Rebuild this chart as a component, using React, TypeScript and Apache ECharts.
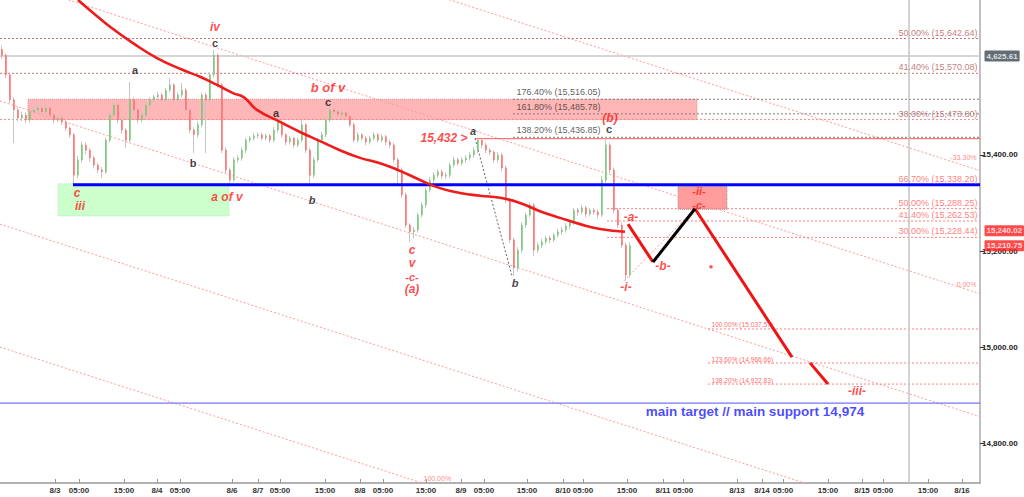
import React, { useEffect, useRef } from "react";
import * as echarts from "echarts";

const BAR_COUNT = 245;
const Y_MIN = 14716.7;
const Y_MAX = 15722.9;

// candles: [open, close, low, high]
const candles: number[][] = [
  [15620,15608,15600,15628],[15608,15567,15560,15612],[15567,15515,15508,15572],[15515,15494,15425,15520],
  [15494,15477,15470,15500],[15477,15483,15471,15490],[15483,15473,15466,15488],[15473,15490,15468,15496],
  [15490,15494,15484,15500],[15494,15498,15488,15504],[15498,15490,15484,15504],[15490,15498,15485,15505],
  [15498,15483,15477,15503],[15483,15473,15466,15488],[15473,15477,15468,15484],[15477,15469,15462,15482],
  [15469,15456,15450,15474],[15456,15442,15436,15460],[15442,15358,15342,15446],[15358,15390,15352,15398],
  [15390,15421,15384,15428],[15421,15410,15402,15426],[15410,15394,15386,15414],[15394,15379,15372,15398],
  [15379,15369,15362,15384],[15369,15365,15352,15375],[15365,15431,15360,15436],[15431,15483,15426,15490],
  [15483,15504,15478,15510],[15504,15473,15466,15508],[15473,15452,15444,15478],[15452,15431,15415,15456],
  [15431,15515,15426,15552],[15515,15494,15488,15520],[15494,15473,15466,15498],[15473,15483,15468,15490],
  [15483,15504,15478,15510],[15504,15515,15498,15520],[15515,15521,15510,15526],[15521,15525,15514,15532],
  [15525,15515,15508,15530],[15515,15535,15510,15540],[15535,15546,15530,15560],[15546,15515,15508,15550],
  [15515,15525,15510,15530],[15525,15535,15520,15550],[15535,15494,15488,15540],[15494,15452,15446,15498],
  [15452,15442,15404,15458],[15442,15463,15436,15470],[15463,15525,15458,15530],[15525,15515,15404,15530],
  [15515,15567,15510,15572],[15567,15608,15562,15619],[15608,15546,15540,15612],[15546,15410,15404,15550],
  [15410,15369,15362,15416],[15369,15348,15340,15374],[15348,15390,15344,15396],[15390,15394,15384,15400],
  [15394,15410,15388,15416],[15410,15431,15404,15436],[15431,15435,15426,15440],[15435,15440,15430,15446],
  [15440,15442,15434,15448],[15442,15435,15430,15446],[15435,15440,15430,15445],[15440,15431,15425,15444],
  [15431,15452,15426,15458],[15452,15469,15446,15477],[15469,15442,15436,15472],[15442,15427,15420,15446],
  [15427,15435,15422,15440],[15435,15421,15414,15438],[15421,15431,15416,15436],[15431,15463,15426,15473],
  [15463,15410,15404,15466],[15410,15358,15342,15414],[15358,15390,15352,15396],[15390,15431,15386,15436],
  [15431,15442,15426,15448],[15442,15473,15436,15478],[15473,15494,15468,15500],[15494,15490,15484,15498],
  [15490,15485,15480,15494],[15485,15488,15480,15494],[15488,15481,15476,15492],[15481,15463,15458,15486],
  [15463,15431,15426,15468],[15431,15442,15426,15448],[15442,15435,15430,15446],[15435,15427,15420,15440],
  [15427,15435,15422,15440],[15435,15442,15430,15448],[15442,15431,15426,15446],[15431,15438,15426,15444],
  [15438,15427,15420,15442],[15427,15421,15414,15432],[15421,15390,15384,15426],[15390,15369,15338,15394],
  [15369,15317,15310,15374],[15317,15254,15248,15322],[15254,15240,15219,15258],[15240,15244,15226,15250],
  [15244,15275,15238,15280],[15275,15296,15270,15302],[15296,15327,15290,15332],[15327,15348,15322,15354],
  [15348,15358,15342,15364],[15358,15365,15352,15370],[15365,15356,15350,15370],[15356,15358,15350,15364],
  [15358,15379,15352,15384],[15379,15390,15374,15396],[15390,15383,15378,15394],[15383,15390,15378,15396],
  [15390,15394,15384,15400],[15394,15400,15388,15406],[15400,15410,15394,15416],[15410,15431,15404,15432],
  [15431,15421,15414,15432],[15421,15410,15404,15426],[15410,15406,15400,15414],[15406,15390,15384,15410],
  [15390,15400,15384,15406],[15400,15373,15366,15404],[15373,15306,15300,15378],[15306,15223,15216,15310],
  [15223,15165,15148,15228],[15165,15202,15158,15208],[15202,15254,15196,15260],[15254,15275,15248,15280],
  [15275,15296,15270,15302],[15296,15202,15190,15300],[15202,15212,15196,15218],[15212,15219,15206,15226],
  [15219,15227,15214,15232],[15227,15223,15216,15232],[15223,15233,15218,15238],[15233,15240,15228,15246],
  [15240,15244,15234,15250],[15244,15252,15238,15258],[15252,15260,15246,15266],[15260,15285,15254,15290],
  [15285,15281,15274,15290],[15281,15290,15276,15296],[15290,15277,15270,15294],[15277,15285,15272,15290],
  [15285,15281,15276,15290],[15281,15275,15268,15286],[15275,15348,15270,15356],[15348,15421,15342,15437],
  [15421,15369,15362,15426],[15369,15285,15278,15374],[15285,15254,15248,15290],[15254,15212,15206,15260],
  [15212,15150,15138,15218],[15150,15211,15144,15218],
];

// moving average [bar, price]
const maLine: number[][] = [
  [19.5,15723],[23,15698],[27.5,15667],[33.25,15633],[39.25,15602],[45.75,15577],[50,15563],[54.25,15546],
  [58.25,15529],[61,15520],[64.25,15494],[70,15469],[75,15448],[80,15429],[85,15410],[90,15394],[95,15383],
  [100,15367],[105,15348],[110,15331],[115,15321],[120,15315],[125,15311],[130,15300],
  [135,15283],[140,15269],[145,15256],[150,15246],[156.25,15240],
];

const xTickPos = [13.75,19.75,31,39.25,45,58,64.5,70,81.25,90,95.75,106.5,115.25,121,131.75,140.75,145.75,156.75,165.75,170.75,184.25,190.5,195.75,207,215.5,220.75,232,240.5];
const xTickLabels = ["8/3","05:00","15:00","8/4","05:00","8/6","8/7","05:00","15:00","8/8","05:00","15:00","8/9","05:00","15:00","8/10","05:00","15:00","8/11","05:00","8/13","8/14","05:00","15:00","8/15","05:00","15:00","8/16"];
const yTicks = [14800, 15000, 15200, 15400];

const fibUpperLevels = [15642.64, 15570.08, 15473.8];
const fibUpperPct = ["50.00%", "41.40%", "30.00%"];
const fibLowerLevels = [15338.2, 15288.25, 15262.53, 15228.44];
const fibLowerPct = ["66.70%", "50.00%", "41.40%", "30.00%"];
const extLevels = [15516.05, 15485.78, 15436.85];
const extPct = ["176.40%", "161.80%", "138.20%"];
const targetLevels = [15037.57, 14966.66, 14922.83];
const targetPct = ["100.00%", "123.60%", "138.20%"];

const resistanceLevel = 15434;
const blueSupport = 15338.2;
const mainTargetLevel = 14883;
const greyLevel = 15606;
const greyLevelText = "4,625.61";
const maLastText = "15,240.02";
const maLastValue = 15242;
const lastCloseText = "15,210.75";
const lastCloseValue = 15211;
const nowBar = 227.25;

// parallel channel lines: [[bar, price], [bar, price]]
const channelLines: number[][][] = [
  [[0,16025],[245,15367.5]],
  [[0,15769],[245,15111]],
  [[0,15512.5],[245,14855]],
  [[0,15256],[245,14599]],
  [[0,15000],[245,14342.5]],
];
const channelLabels: [number, number, string][] = [
  [244.25, 15394, "-33.30%"],
  [244.25, 15131, "0.00%"],
];
const channelLabelsLeft: [number, number, string][] = [[105.75, 14727, "100.00%"]];

const projRed: number[][][] = [
  [[157,15256],[163.25,15177]],
  [[173.75,15288],[198,14979]],
  [[202.5,14967],[207,14923]],
];
const projBlack: number[][] = [[163.25,15177],[173.75,15288]];
const dashedAB: number[][] = [[118.75,15435],[128,15148]];
const dottedIC: number[][] = [[156,15138],[173.75,15288]];
const redDot: number[] = [177.75, 15167];

const bandPink: number[][] = [[7,15516.05],[174.25,15473.8]];
const boxGreen: number[][] = [[14.5,15340],[57.25,15273]];
const boxRed: number[][] = [[169.5,15335],[181.75,15287]];

const redLabels: [number, number, string][] = [
  [53.75,15667,"iv"],[82,15540,"b of v"],[19.25,15321,"c"],[20,15294,"iii"],[56.75,15313,"a of v"],
  [103,15202,"c"],[103,15175,"v"],[103,15146,"-c-"],[103,15121,"(a)"],[111,15435,"15,432 >"],
  [152.5,15477,"(b)"],[156.5,15125,"-i-"],[157.75,15271,"-a-"],[165.75,15169,"-b-"],
  [174.75,15324,"-ii-"],[174.75,15296,"-c-"],[214.25,14908,"-iii-"],
];
const blackLabels: [number, number, string][] = [
  [53.75,15633,"c"],[33.75,15577,"a"],[48.25,15383,"b"],[82,15511,"c"],[69,15488,"a"],
  [152.25,15454,"c"],
];
const blackItalicLabels: [number, number, string][] = [
  [78,15306,"b"],[118.25,15450,"a"],[128.75,15133,"b"],
];
const blueText: [number, number, string] = [188.75, 14866, "main target // main support 14,974"];

const FONT = "'Liberation Sans', Arial, sans-serif";
const fmt2 = (v: number) => v.toLocaleString("en-US", { minimumFractionDigits: 2, maximumFractionDigits: 2 });

function seg(data: number[][], color: string, width: number, type: any, z = 3): any {
  return {
    type: "line", xAxisIndex: 1, yAxisIndex: 0, data, symbol: "none", silent: true, z,
    lineStyle: { color, width, type }, clip: true,
  };
}

function textItem(x: number, y: number, text: string, style: any): any {
  return {
    value: [x, y],
    label: { show: true, formatter: text, position: "inside", fontFamily: FONT, ...style },
  };
}

function buildOption(): any {
  const series: any[] = [];
  const dotted = [2, 2];

  channelLines.forEach((l) => series.push(seg(l, "#ff9a9a", 1, dotted, 2)));
  fibUpperLevels.forEach((v, i) => series.push(seg([[0, v], [BAR_COUNT, v]], i === 2 ? "#f08a8a" : "#c87070", 1, dotted, 2)));
  series.push(seg([[0, greyLevel], [BAR_COUNT, greyLevel]], "#c8c8c8", 1.5, "solid", 2));
  extLevels.forEach((v) => series.push(seg([[128.25, v], [BAR_COUNT, v]], "#808080", 1, dotted, 2)));
  fibLowerLevels.forEach((v) => series.push(seg([[151.75, v], [BAR_COUNT, v]], "#ff8080", 1, dotted, 2)));
  targetLevels.forEach((v) => series.push(seg([[177, v], [BAR_COUNT, v]], "#ff8080", 1, dotted, 2)));
  series.push(seg([[118.75, resistanceLevel], [BAR_COUNT, resistanceLevel]], "#ff5a5a", 1, "solid", 2));
  series.push(seg([[0, mainTargetLevel], [BAR_COUNT, mainTargetLevel]], "#7474ff", 1.2, "solid", 2));
  series.push(seg([[nowBar, Y_MIN], [nowBar, Y_MAX]], "#c4c4c4", 1.5, "solid", 2));
  series.push(seg(dashedAB, "#666", 1, [2, 2], 3));
  series.push(seg(dottedIC, "#ff9a9a", 1, dotted, 3));

  series.push({
    type: "candlestick", xAxisIndex: 0, yAxisIndex: 0, data: candles, barWidth: 1, z: 3, silent: true,
    itemStyle: { color: "#c4c4c4", color0: "#c4c4c4", borderColor: "#c4c4c4", borderColor0: "#c4c4c4", borderWidth: 1 },
  });
  series.push({
    type: "candlestick", xAxisIndex: 0, yAxisIndex: 0, z: 4, silent: true,
    data: candles.map(([o, c]) => [o, c, Math.min(o, c), Math.max(o, c)]), barWidth: 2,
    itemStyle: { color: "#74c874", color0: "#ff6c6c", borderColor: "#74c874", borderColor0: "#ff6c6c", borderWidth: 0.5 },
  });

  series.push(seg([[18.25, blueSupport], [BAR_COUNT, blueSupport]], "#0000ff", 3, "solid", 5));

  series.push({
    type: "line", xAxisIndex: 1, yAxisIndex: 0, data: maLine, symbol: "none", smooth: true, z: 6, silent: true,
    lineStyle: { color: "#ee1c1c", width: 2.6 },
    markArea: {
      silent: true,
      data: [
        [{ coord: bandPink[0], itemStyle: { color: "rgba(255,110,110,0.5)", borderColor: "#e88", borderWidth: 1, borderType: "dotted" } }, { coord: bandPink[1] }],
        [{ coord: boxGreen[0], itemStyle: { color: "#ccffcc", borderColor: "#b8e8b8", borderWidth: 1, borderType: "dotted" } }, { coord: boxGreen[1] }],
        [{ coord: boxRed[0], itemStyle: { color: "#ff9c9c", borderColor: "#999", borderWidth: 1, borderType: "dotted" } }, { coord: boxRed[1] }],
      ],
    },
  });

  projRed.forEach((l) => series.push(seg(l, "#ee1414", 3, "solid", 7)));
  series.push(seg(projBlack, "#000", 3, "solid", 7));

  const labels: any[] = [];
  const rightEnd = { position: "left", distance: 0, offset: [0, -6], fontSize: 9 };
  fibUpperLevels.forEach((v, i) => labels.push(textItem(244.5, v, `${fibUpperPct[i]} (${fmt2(v)})`, { ...rightEnd, color: "#b25a5a" })));
  fibLowerLevels.forEach((v, i) => labels.push(textItem(244.5, v, `${fibLowerPct[i]} (${fmt2(v)})`, { ...rightEnd, color: "#ff5c5c" })));
  extLevels.forEach((v, i) => labels.push(textItem(129, v, `${extPct[i]} (${fmt2(v)})`, { position: "right", distance: 0, offset: [0, -7], fontSize: 9, color: "#333" })));
  targetLevels.forEach((v, i) => labels.push(textItem(177.75, v, `${targetPct[i]} (${fmt2(v)})`, { position: "right", distance: 0, offset: [0, -4], fontSize: 6.6, color: "#ff4040" })));
  channelLabels.forEach(([x, y, t]) => labels.push(textItem(x, y, t, { position: "left", distance: 0, fontSize: 7, color: "#ff6a6a" })));
  channelLabelsLeft.forEach(([x, y, t]) => labels.push(textItem(x, y, t, { position: "right", distance: 0, fontSize: 7, color: "#ff6a6a" })));
  redLabels.forEach(([x, y, t]) => labels.push(textItem(x, y, t, { color: "#ff1a1a", fontSize: t === "b of v" ? 13 : (t === "-ii-" || t === "-c-" ? 11 : 12), fontWeight: "bold", fontStyle: "italic" })));
  blackLabels.forEach(([x, y, t]) => labels.push(textItem(x, y, t, { color: "#111", fontSize: 11, fontWeight: "bold" })));
  blackItalicLabels.forEach(([x, y, t]) => labels.push(textItem(x, y, t, { color: "#111", fontSize: 11, fontWeight: "bold", fontStyle: "italic" })));
  labels.push(textItem(blueText[0], blueText[1], blueText[2], { color: "#1a1aff", fontSize: 13.5, fontWeight: "bold" }));

  const box = (v: number, t: string, bg: string) =>
    textItem(BAR_COUNT, v, t, { position: "right", distance: 4, color: "#fff", fontSize: 8, fontWeight: "bold", backgroundColor: bg, padding: [2, 2, 1, 2], borderRadius: 1 });
  labels.push(box(greyLevel, greyLevelText, "#3b4954"));
  labels.push(box(maLastValue, maLastText, "#ff1e1e"));
  labels.push(box(lastCloseValue, lastCloseText, "#ff1e1e"));

  series.push({
    type: "scatter", xAxisIndex: 1, yAxisIndex: 0, data: labels, symbolSize: 1, clip: false, z: 20, silent: true,
    itemStyle: { color: "rgba(0,0,0,0)" },
  });
  series.push({
    type: "scatter", xAxisIndex: 1, yAxisIndex: 0, data: [redDot], symbol: "rect", symbolSize: 3, z: 8, silent: true,
    itemStyle: { color: "#ff1a1a" },
  });

  return {
    animation: false,
    backgroundColor: "#fff",
    textStyle: { fontFamily: FONT },
    grid: { left: 0, right: 44, top: 0, bottom: 14, containLabel: false, outerBoundsMode: "none" },
    xAxis: [
      { type: "category", data: Array.from({ length: BAR_COUNT }, (_, i) => String(i)), show: false, boundaryGap: true },
      {
        type: "value", min: 0, max: BAR_COUNT, position: "bottom",
        axisLine: { show: true, onZero: false, lineStyle: { color: "#999", width: 1.5 } },
        axisTick: { show: true, inside: true, length: 4, customValues: xTickPos, lineStyle: { color: "#999" } },
        axisLabel: {
          customValues: xTickPos, margin: 3, fontSize: 8, fontWeight: "bold", color: "#333", fontFamily: FONT,
          formatter: (v: number) => { const i = xTickPos.findIndex((p) => Math.abs(p - v) < 1e-6); return i >= 0 ? xTickLabels[i] : ""; },
        },
        splitLine: { show: false },
      },
    ],
    yAxis: {
      type: "value", position: "right", min: Y_MIN, max: Y_MAX, scale: true,
      axisLine: { show: true, onZero: false, lineStyle: { color: "#aaa", width: 1.5 } },
      axisTick: { show: true, length: 4, customValues: yTicks, lineStyle: { color: "#333" } },
      axisLabel: { customValues: yTicks, margin: 2, fontSize: 8, fontWeight: "bold", color: "#222", fontFamily: FONT, formatter: (v: number) => fmt2(v) },
      splitLine: { show: false },
    },
    series,
  };
}

export default function App() {
  const ref = useRef<HTMLDivElement>(null);
  useEffect(() => {
    if (!ref.current) return;
    const chart = echarts.init(ref.current, null, { renderer: "svg" });
    chart.setOption(buildOption());
    return () => chart.dispose();
  }, []);
  return <div ref={ref} style={{ position: "fixed", left: 0, top: 0, width: 1024, height: 497, background: "#fff" }} />;
}
